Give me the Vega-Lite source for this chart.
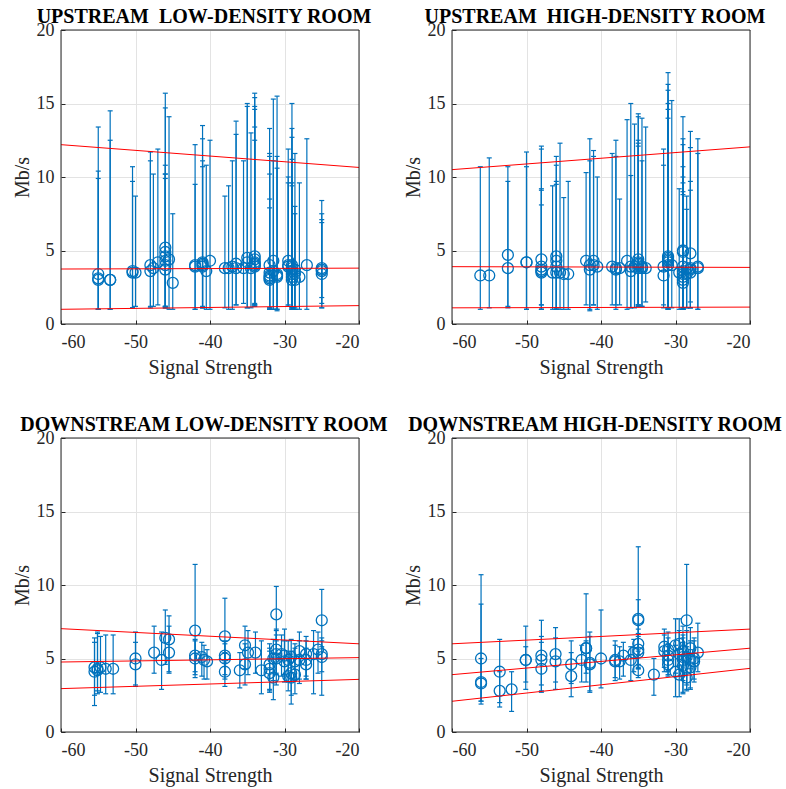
{
"$schema": "https://vega.github.io/schema/vega-lite/v6.json",
"padding": {"left": 11, "top": 6, "right": 5, "bottom": 5},
"columns": 2,
"spacing": {"row": 114, "column": 93},
"bounds": "flush",
"datasets": {
"frame": [{"x0": -60, "x1": -20, "y0": 0, "y1": 20}],
"UL": [
{"x":-55,"y":3.4,"lo":1.0,"hi":13.4},{"x":-55,"y":3.1,"lo":1.0,"hi":10.4},{"x":-55,"y":3.0,"lo":1.0,"hi":9.9},
{"x":-53.4,"y":3.0,"lo":1.0,"hi":14.5},{"x":-53.4,"y":3.0,"lo":1.0,"hi":12.5},
{"x":-50.4,"y":3.6,"lo":1.1,"hi":10.7},{"x":-50.4,"y":3.5,"lo":1.1,"hi":9.7},
{"x":-50.0,"y":3.5,"lo":1.2,"hi":8.7},
{"x":-48.0,"y":4.0,"lo":1.1,"hi":11.7},{"x":-48.0,"y":3.6,"lo":1.2,"hi":11.1},
{"x":-47.6,"y":3.8,"lo":1.2,"hi":10.2},
{"x":-47.0,"y":4.2,"lo":1.3,"hi":11.9},
{"x":-46.0,"y":5.2,"lo":1.1,"hi":15.7},{"x":-46.0,"y":4.9,"lo":1.2,"hi":14.7},{"x":-46.0,"y":4.6,"lo":1.1,"hi":10.8},{"x":-46.0,"y":4.3,"lo":1.2,"hi":10.2},{"x":-46.0,"y":4.0,"lo":1.1,"hi":9.9},{"x":-46.0,"y":3.7,"lo":1.2,"hi":10.2},
{"x":-45.5,"y":4.4,"lo":1.0,"hi":14.1},
{"x":-45.0,"y":2.8,"lo":1.0,"hi":7.5},
{"x":-42.0,"y":4.0,"lo":1.0,"hi":12.2},{"x":-42.0,"y":3.9,"lo":1.0,"hi":9.5},
{"x":-41.0,"y":4.2,"lo":1.1,"hi":13.5},{"x":-41.0,"y":4.0,"lo":1.1,"hi":12.6},{"x":-41.0,"y":3.9,"lo":1.2,"hi":11.1},{"x":-41.0,"y":4.1,"lo":1.1,"hi":10.7},
{"x":-40.5,"y":3.6,"lo":1.0,"hi":10.8},
{"x":-40.0,"y":4.3,"lo":1.0,"hi":12.5},
{"x":-38.0,"y":3.8,"lo":1.1,"hi":8.7},
{"x":-37.5,"y":3.8,"lo":1.0,"hi":9.4},
{"x":-37.0,"y":3.9,"lo":1.0,"hi":11.1},
{"x":-36.5,"y":4.1,"lo":1.3,"hi":13.8},{"x":-36.5,"y":3.8,"lo":1.3,"hi":12.9},
{"x":-35.5,"y":3.8,"lo":1.4,"hi":11.1},
{"x":-35.0,"y":4.5,"lo":1.1,"hi":15.0},{"x":-35.0,"y":4.2,"lo":1.1,"hi":14.8},
{"x":-34.5,"y":3.8,"lo":1.1,"hi":13.0},
{"x":-34.0,"y":4.6,"lo":1.3,"hi":15.7},{"x":-34.0,"y":4.4,"lo":1.3,"hi":15.4},{"x":-34.0,"y":4.2,"lo":1.2,"hi":14.8},{"x":-34.0,"y":4.0,"lo":1.4,"hi":14.6},{"x":-34.0,"y":3.9,"lo":1.3,"hi":13.4},{"x":-34.0,"y":4.1,"lo":1.2,"hi":12.5},
{"x":-32.0,"y":4.0,"lo":1.0,"hi":13.3},{"x":-32.0,"y":3.5,"lo":1.0,"hi":11.6},{"x":-32.0,"y":3.3,"lo":1.1,"hi":11.4},{"x":-32.0,"y":3.2,"lo":1.0,"hi":10.2},{"x":-32.0,"y":3.0,"lo":1.1,"hi":8.5},{"x":-32.0,"y":3.1,"lo":1.0,"hi":7.9},
{"x":-31.5,"y":4.3,"lo":1.0,"hi":15.3},{"x":-31.5,"y":3.6,"lo":1.0,"hi":11.1},
{"x":-31.0,"y":3.2,"lo":0.9,"hi":15.5},{"x":-31.0,"y":3.4,"lo":1.0,"hi":11.4},{"x":-31.0,"y":3.3,"lo":1.0,"hi":10.6},
{"x":-29.5,"y":4.3,"lo":1.2,"hi":11.9},{"x":-29.5,"y":3.9,"lo":1.3,"hi":10.0},{"x":-29.5,"y":4.0,"lo":1.2,"hi":9.6},
{"x":-29.0,"y":4.0,"lo":1.0,"hi":15.0},{"x":-29.0,"y":3.8,"lo":1.1,"hi":13.3},{"x":-29.0,"y":3.6,"lo":1.0,"hi":12.7},{"x":-29.0,"y":3.4,"lo":1.1,"hi":11.2},{"x":-29.0,"y":3.2,"lo":1.0,"hi":9.6},{"x":-29.0,"y":3.0,"lo":1.1,"hi":9.4},
{"x":-28.6,"y":3.7,"lo":1.0,"hi":11.6},{"x":-28.6,"y":3.0,"lo":1.0,"hi":8.0},{"x":-28.6,"y":3.4,"lo":1.1,"hi":7.5},
{"x":-28.0,"y":3.2,"lo":1.0,"hi":9.6},
{"x":-27.0,"y":4.0,"lo":1.0,"hi":12.6},
{"x":-25.0,"y":3.8,"lo":1.1,"hi":8.4},{"x":-25.0,"y":3.6,"lo":1.4,"hi":7.5},{"x":-25.0,"y":3.4,"lo":1.8,"hi":7.1},{"x":-25.0,"y":3.7,"lo":1.1,"hi":6.9}
],
"UH": [
{"x":-56.2,"y":3.3,"lo":1.0,"hi":10.7},
{"x":-55.0,"y":3.3,"lo":1.1,"hi":11.3},
{"x":-52.5,"y":4.7,"lo":1.1,"hi":10.7},{"x":-52.5,"y":3.8,"lo":1.2,"hi":9.7},
{"x":-50.0,"y":4.2,"lo":1.0,"hi":11.7},{"x":-50.0,"y":4.2,"lo":1.0,"hi":10.7},
{"x":-48.0,"y":4.4,"lo":1.0,"hi":12.1},{"x":-48.0,"y":3.9,"lo":1.3,"hi":11.9},{"x":-48.0,"y":3.5,"lo":1.0,"hi":9.2},{"x":-48.0,"y":3.7,"lo":1.0,"hi":9.1},{"x":-48.0,"y":3.6,"lo":1.3,"hi":8.1},
{"x":-46.5,"y":3.5,"lo":1.0,"hi":9.4},
{"x":-46.0,"y":4.6,"lo":1.0,"hi":11.4},{"x":-46.0,"y":4.3,"lo":1.0,"hi":10.8},{"x":-46.0,"y":3.9,"lo":1.1,"hi":9.7},{"x":-46.0,"y":3.5,"lo":1.0,"hi":9.5},
{"x":-45.5,"y":3.5,"lo":1.0,"hi":12.3},
{"x":-45.0,"y":3.4,"lo":1.0,"hi":8.6},
{"x":-44.4,"y":3.4,"lo":1.0,"hi":9.7},
{"x":-42.0,"y":4.3,"lo":1.3,"hi":10.3},
{"x":-41.5,"y":4.0,"lo":0.9,"hi":12.6},{"x":-41.5,"y":3.7,"lo":1.0,"hi":11.1},
{"x":-41.0,"y":4.3,"lo":1.3,"hi":11.8},{"x":-41.0,"y":4.0,"lo":1.3,"hi":11.4},
{"x":-40.5,"y":3.9,"lo":1.0,"hi":10.0},
{"x":-38.5,"y":3.9,"lo":1.3,"hi":11.6},
{"x":-38.0,"y":3.8,"lo":1.0,"hi":12.5},{"x":-38.0,"y":3.7,"lo":1.3,"hi":11.4},
{"x":-37.5,"y":3.8,"lo":1.3,"hi":8.5},
{"x":-36.5,"y":4.3,"lo":1.0,"hi":13.9},
{"x":-36.0,"y":3.9,"lo":1.1,"hi":15.0},{"x":-36.0,"y":3.6,"lo":1.1,"hi":10.1},
{"x":-35.5,"y":3.9,"lo":1.1,"hi":13.6},
{"x":-35.0,"y":4.4,"lo":1.3,"hi":14.3},{"x":-35.0,"y":4.2,"lo":1.3,"hi":14.1},{"x":-35.0,"y":4.0,"lo":1.2,"hi":12.5},{"x":-35.0,"y":3.8,"lo":1.3,"hi":12.3},{"x":-35.0,"y":4.1,"lo":1.2,"hi":12.1},
{"x":-34.5,"y":3.9,"lo":1.2,"hi":14.0},{"x":-34.5,"y":3.8,"lo":1.2,"hi":11.1},
{"x":-34.0,"y":3.8,"lo":1.5,"hi":13.4},
{"x":-31.6,"y":3.9,"lo":1.3,"hi":11.9},{"x":-31.6,"y":3.3,"lo":1.1,"hi":10.8},
{"x":-31.0,"y":4.6,"lo":1.0,"hi":17.1},{"x":-31.0,"y":4.4,"lo":1.1,"hi":16.3},{"x":-31.0,"y":4.2,"lo":1.0,"hi":15.9},{"x":-31.0,"y":4.3,"lo":1.1,"hi":15.0},{"x":-31.0,"y":4.5,"lo":1.0,"hi":14.6},{"x":-31.0,"y":4.0,"lo":1.1,"hi":14.0},
{"x":-30.5,"y":4.0,"lo":1.1,"hi":15.2},
{"x":-29.5,"y":3.5,"lo":1.0,"hi":9.2},
{"x":-29.0,"y":5.0,"lo":1.0,"hi":14.1},{"x":-29.0,"y":4.9,"lo":1.1,"hi":12.6},{"x":-29.0,"y":3.9,"lo":1.0,"hi":12.2},{"x":-29.0,"y":3.6,"lo":1.0,"hi":10.7},{"x":-29.0,"y":3.2,"lo":1.1,"hi":10.0},{"x":-29.0,"y":3.0,"lo":1.0,"hi":9.6},{"x":-29.0,"y":2.8,"lo":1.0,"hi":9.0},{"x":-29.0,"y":3.4,"lo":1.0,"hi":8.8},
{"x":-28.5,"y":3.8,"lo":1.1,"hi":8.7},{"x":-28.5,"y":3.4,"lo":1.1,"hi":7.8},
{"x":-28.0,"y":4.8,"lo":1.1,"hi":13.1},{"x":-28.0,"y":3.8,"lo":1.1,"hi":12.0},{"x":-28.0,"y":3.5,"lo":1.5,"hi":9.7},{"x":-28.0,"y":3.7,"lo":1.1,"hi":9.1},
{"x":-27.0,"y":3.9,"lo":1.0,"hi":12.6},{"x":-27.0,"y":3.8,"lo":1.0,"hi":11.6}
],
"DL": [
{"x":-55.5,"y":4.4,"lo":1.8,"hi":6.4},{"x":-55.5,"y":4.1,"lo":2.5,"hi":6.1},
{"x":-55.1,"y":4.3,"lo":2.6,"hi":6.8},{"x":-55.1,"y":4.2,"lo":2.8,"hi":6.7},
{"x":-54.7,"y":4.4,"lo":2.7,"hi":6.5},
{"x":-54.0,"y":4.3,"lo":2.6,"hi":6.6},
{"x":-53.0,"y":4.3,"lo":2.6,"hi":6.6},
{"x":-50.0,"y":5.0,"lo":3.2,"hi":6.8},{"x":-50.0,"y":4.6,"lo":3.1,"hi":6.1},
{"x":-47.5,"y":5.4,"lo":4.0,"hi":7.2},
{"x":-46.5,"y":4.9,"lo":2.9,"hi":6.8},
{"x":-46.0,"y":6.4,"lo":4.6,"hi":8.3},
{"x":-45.5,"y":6.3,"lo":4.0,"hi":7.9},{"x":-45.5,"y":5.4,"lo":4.1,"hi":7.2},
{"x":-42.0,"y":6.9,"lo":4.1,"hi":11.4},{"x":-42.0,"y":5.2,"lo":3.7,"hi":6.2},{"x":-42.0,"y":5.0,"lo":3.9,"hi":6.3},
{"x":-41.1,"y":5.1,"lo":3.8,"hi":6.1},
{"x":-40.8,"y":4.9,"lo":3.6,"hi":5.9},
{"x":-40.4,"y":4.8,"lo":3.6,"hi":5.6},
{"x":-38.0,"y":6.5,"lo":4.7,"hi":9.1},{"x":-38.0,"y":5.2,"lo":3.9,"hi":6.2},{"x":-38.0,"y":5.0,"lo":3.6,"hi":6.0},{"x":-38.0,"y":4.1,"lo":3.1,"hi":5.4},
{"x":-36.0,"y":4.2,"lo":3.0,"hi":5.4},
{"x":-35.3,"y":5.9,"lo":4.3,"hi":7.2},{"x":-35.3,"y":4.6,"lo":3.2,"hi":6.0},
{"x":-34.9,"y":5.4,"lo":3.9,"hi":6.9},
{"x":-33.9,"y":5.4,"lo":4.0,"hi":6.8},
{"x":-33.1,"y":4.2,"lo":2.6,"hi":6.2},
{"x":-32.0,"y":4.6,"lo":2.8,"hi":6.0},{"x":-32.0,"y":4.3,"lo":2.7,"hi":5.7},{"x":-32.0,"y":4.0,"lo":2.9,"hi":5.5},
{"x":-31.5,"y":5.0,"lo":3.5,"hi":6.3},{"x":-31.5,"y":3.7,"lo":2.2,"hi":5.1},
{"x":-31.1,"y":8.0,"lo":6.2,"hi":9.9},{"x":-31.1,"y":5.6,"lo":4.0,"hi":7.0},{"x":-31.1,"y":5.3,"lo":3.9,"hi":6.9},{"x":-31.1,"y":5.0,"lo":3.2,"hi":6.6},
{"x":-30.4,"y":5.3,"lo":3.8,"hi":6.6},
{"x":-30.0,"y":5.2,"lo":3.9,"hi":7.0},{"x":-30.0,"y":4.8,"lo":3.4,"hi":6.2},
{"x":-29.5,"y":4.9,"lo":3.4,"hi":6.2},{"x":-29.5,"y":3.8,"lo":2.8,"hi":5.0},
{"x":-29.1,"y":5.1,"lo":3.6,"hi":6.3},{"x":-29.1,"y":4.0,"lo":2.5,"hi":5.5},{"x":-29.1,"y":3.7,"lo":1.9,"hi":5.3},
{"x":-28.6,"y":3.9,"lo":2.6,"hi":5.7},{"x":-28.6,"y":4.8,"lo":3.5,"hi":6.0},
{"x":-28.0,"y":5.5,"lo":3.3,"hi":6.8},{"x":-28.0,"y":4.9,"lo":3.6,"hi":6.2},
{"x":-27.1,"y":5.3,"lo":3.8,"hi":6.5},{"x":-27.1,"y":4.9,"lo":3.6,"hi":6.2},{"x":-27.1,"y":4.6,"lo":3.6,"hi":5.7},
{"x":-26.1,"y":5.3,"lo":2.6,"hi":6.9},
{"x":-25.5,"y":5.6,"lo":4.0,"hi":6.8},
{"x":-25.0,"y":7.6,"lo":5.8,"hi":9.7},{"x":-25.0,"y":5.3,"lo":2.5,"hi":6.4},{"x":-25.0,"y":5.1,"lo":4.1,"hi":6.2}
],
"DH": [
{"x":-56.1,"y":5.0,"lo":2.1,"hi":10.7},{"x":-56.1,"y":3.4,"lo":1.9,"hi":8.7},{"x":-56.1,"y":3.3,"lo":2.1,"hi":5.0},
{"x":-53.6,"y":4.1,"lo":2.0,"hi":6.3},{"x":-53.6,"y":2.8,"lo":1.7,"hi":4.1},
{"x":-52.0,"y":2.9,"lo":1.4,"hi":4.1},
{"x":-50.1,"y":4.9,"lo":2.9,"hi":7.2},{"x":-50.1,"y":4.9,"lo":3.4,"hi":5.8},
{"x":-48.0,"y":5.2,"lo":2.7,"hi":7.6},{"x":-48.0,"y":4.9,"lo":3.2,"hi":6.5},{"x":-48.0,"y":4.3,"lo":2.8,"hi":6.1},
{"x":-46.1,"y":5.3,"lo":2.9,"hi":7.1},{"x":-46.1,"y":4.8,"lo":3.4,"hi":6.4},
{"x":-44.0,"y":4.6,"lo":3.3,"hi":6.2},{"x":-44.0,"y":3.8,"lo":2.4,"hi":5.4},
{"x":-42.6,"y":4.9,"lo":3.4,"hi":5.9},
{"x":-42.0,"y":5.7,"lo":3.4,"hi":9.4},{"x":-42.0,"y":5.7,"lo":4.0,"hi":6.2},
{"x":-41.5,"y":4.7,"lo":2.7,"hi":6.8},{"x":-41.5,"y":4.6,"lo":2.8,"hi":6.5},
{"x":-40.0,"y":5.0,"lo":3.0,"hi":8.3},
{"x":-38.1,"y":4.9,"lo":3.5,"hi":6.2},{"x":-38.1,"y":4.8,"lo":3.7,"hi":5.9},
{"x":-37.5,"y":4.8,"lo":3.6,"hi":5.8},
{"x":-37.0,"y":5.2,"lo":3.8,"hi":6.1},
{"x":-36.0,"y":4.9,"lo":3.5,"hi":5.8},
{"x":-35.6,"y":5.4,"lo":4.1,"hi":6.3},
{"x":-35.0,"y":7.7,"lo":4.6,"hi":12.6},{"x":-35.0,"y":7.6,"lo":5.5,"hi":9.0},{"x":-35.0,"y":6.0,"lo":4.3,"hi":7.0},{"x":-35.0,"y":5.6,"lo":4.4,"hi":6.7},{"x":-35.0,"y":5.4,"lo":4.3,"hi":6.5},{"x":-35.0,"y":4.2,"lo":3.7,"hi":5.2},
{"x":-32.9,"y":3.9,"lo":2.5,"hi":5.0},
{"x":-31.5,"y":5.8,"lo":4.1,"hi":7.0},{"x":-31.5,"y":5.5,"lo":4.4,"hi":6.6},
{"x":-31.0,"y":5.6,"lo":4.2,"hi":6.8},{"x":-31.0,"y":5.2,"lo":4.1,"hi":6.4},{"x":-31.0,"y":4.9,"lo":3.8,"hi":6.0},{"x":-31.0,"y":4.6,"lo":3.9,"hi":5.8},
{"x":-30.0,"y":5.9,"lo":4.0,"hi":7.7},{"x":-30.0,"y":4.1,"lo":2.4,"hi":5.9},
{"x":-29.5,"y":6.0,"lo":4.5,"hi":7.7},{"x":-29.5,"y":5.3,"lo":3.8,"hi":6.9},{"x":-29.5,"y":3.9,"lo":2.4,"hi":5.6},
{"x":-29.0,"y":5.5,"lo":3.8,"hi":7.2},{"x":-29.0,"y":5.1,"lo":3.5,"hi":6.6},{"x":-29.0,"y":4.9,"lo":2.6,"hi":6.4},{"x":-29.0,"y":4.5,"lo":2.7,"hi":6.1},
{"x":-28.5,"y":7.6,"lo":5.3,"hi":11.4},{"x":-28.5,"y":5.1,"lo":3.2,"hi":6.9},{"x":-28.5,"y":4.3,"lo":2.9,"hi":5.8},{"x":-28.5,"y":3.7,"lo":2.8,"hi":5.2},
{"x":-28.0,"y":5.7,"lo":4.3,"hi":7.1},{"x":-28.0,"y":4.9,"lo":2.9,"hi":6.2},{"x":-28.0,"y":4.4,"lo":3.0,"hi":5.6},
{"x":-27.5,"y":4.8,"lo":3.4,"hi":6.4},{"x":-27.5,"y":5.0,"lo":3.6,"hi":6.2},
{"x":-27.0,"y":5.4,"lo":4.1,"hi":7.4}
],
"ULfit": [{"x":-60,"y":12.2,"x2":-20,"y2":10.65},{"x":-60,"y":3.74,"x2":-20,"y2":3.8},{"x":-60,"y":1.0,"x2":-20,"y2":1.25}],
"UHfit": [{"x":-60,"y":10.5,"x2":-20,"y2":12.05},{"x":-60,"y":3.9,"x2":-20,"y2":3.85},{"x":-60,"y":1.1,"x2":-20,"y2":1.15}],
"DLfit": [{"x":-60,"y":7.03,"x2":-20,"y2":6.0},{"x":-60,"y":4.76,"x2":-20,"y2":5.06},{"x":-60,"y":2.95,"x2":-20,"y2":3.58}],
"DHfit": [{"x":-60,"y":6.0,"x2":-20,"y2":7.0},{"x":-60,"y":3.9,"x2":-20,"y2":5.7},{"x":-60,"y":2.09,"x2":-20,"y2":4.33}]
},
"concat": [
{"title": "UPSTREAM\u00a0 LOW-DENSITY ROOM", "width": 298, "height": 294,
 "layer": [
  {"data": {"name": "UL"}, "mark": {"type": "rule", "color": "#0072BD", "strokeWidth": 1.2},
   "encoding": {"x": {"field": "x", "type": "quantitative", "scale": {"domain": [-60, -20], "nice": false, "zero": false}, "axis": {"values": [-60, -50, -40, -30, -20]}, "title": "Signal Strength"},
    "y": {"field": "lo", "type": "quantitative", "scale": {"domain": [0, 20], "nice": false, "zero": false}, "axis": {"values": [0, 5, 10, 15, 20]}, "title": "Mb/s"}, "y2": {"field": "hi"}}},
  {"data": {"name": "UL"}, "mark": {"type": "tick", "orient": "horizontal", "size": 5, "thickness": 1.2, "color": "#0072BD", "opacity": 1},
   "encoding": {"x": {"field": "x", "type": "quantitative", "scale": {"domain": [-60, -20], "nice": false, "zero": false}, "title": "Signal Strength"},
    "y": {"field": "lo", "type": "quantitative", "scale": {"domain": [0, 20], "nice": false, "zero": false}, "title": "Mb/s"}}},
  {"data": {"name": "UL"}, "mark": {"type": "tick", "orient": "horizontal", "size": 5, "thickness": 1.2, "color": "#0072BD", "opacity": 1},
   "encoding": {"x": {"field": "x", "type": "quantitative", "scale": {"domain": [-60, -20], "nice": false, "zero": false}, "title": "Signal Strength"},
    "y": {"field": "hi", "type": "quantitative", "scale": {"domain": [0, 20], "nice": false, "zero": false}, "title": "Mb/s"}}},
  {"data": {"name": "UL"}, "mark": {"type": "point", "shape": "circle", "filled": false, "size": 120, "strokeWidth": 1.3, "color": "#0072BD", "opacity": 1},
   "encoding": {"x": {"field": "x", "type": "quantitative", "scale": {"domain": [-60, -20], "nice": false, "zero": false}, "title": "Signal Strength"},
    "y": {"field": "y", "type": "quantitative", "scale": {"domain": [0, 20], "nice": false, "zero": false}, "title": "Mb/s"}}},
  {"data": {"name": "ULfit"}, "mark": {"type": "rule", "color": "#FF0000", "strokeWidth": 1},
   "encoding": {"x": {"field": "x", "type": "quantitative", "scale": {"domain": [-60, -20], "nice": false, "zero": false}, "title": "Signal Strength"},
    "y": {"field": "y", "type": "quantitative", "scale": {"domain": [0, 20], "nice": false, "zero": false}, "title": "Mb/s"}, "x2": {"field": "x2"}, "y2": {"field": "y2"}}},
  {"data": {"name": "frame"}, "mark": {"type": "rect", "fill": null, "fillOpacity": 0, "stroke": "#262626", "strokeWidth": 1},
   "encoding": {"x": {"field": "x0", "type": "quantitative", "scale": {"domain": [-60, -20], "nice": false, "zero": false}, "title": "Signal Strength"}, "x2": {"field": "x1"},
    "y": {"field": "y0", "type": "quantitative", "scale": {"domain": [0, 20], "nice": false, "zero": false}, "title": "Mb/s"}, "y2": {"field": "y1"}}}
 ]},
{"title": "UPSTREAM\u00a0 HIGH-DENSITY ROOM", "width": 298, "height": 294,
 "layer": [
  {"data": {"name": "UH"}, "mark": {"type": "rule", "color": "#0072BD", "strokeWidth": 1.2},
   "encoding": {"x": {"field": "x", "type": "quantitative", "scale": {"domain": [-60, -20], "nice": false, "zero": false}, "axis": {"values": [-60, -50, -40, -30, -20]}, "title": "Signal Strength"},
    "y": {"field": "lo", "type": "quantitative", "scale": {"domain": [0, 20], "nice": false, "zero": false}, "axis": {"values": [0, 5, 10, 15, 20]}, "title": "Mb/s"}, "y2": {"field": "hi"}}},
  {"data": {"name": "UH"}, "mark": {"type": "tick", "orient": "horizontal", "size": 5, "thickness": 1.2, "color": "#0072BD", "opacity": 1},
   "encoding": {"x": {"field": "x", "type": "quantitative", "scale": {"domain": [-60, -20], "nice": false, "zero": false}, "title": "Signal Strength"},
    "y": {"field": "lo", "type": "quantitative", "scale": {"domain": [0, 20], "nice": false, "zero": false}, "title": "Mb/s"}}},
  {"data": {"name": "UH"}, "mark": {"type": "tick", "orient": "horizontal", "size": 5, "thickness": 1.2, "color": "#0072BD", "opacity": 1},
   "encoding": {"x": {"field": "x", "type": "quantitative", "scale": {"domain": [-60, -20], "nice": false, "zero": false}, "title": "Signal Strength"},
    "y": {"field": "hi", "type": "quantitative", "scale": {"domain": [0, 20], "nice": false, "zero": false}, "title": "Mb/s"}}},
  {"data": {"name": "UH"}, "mark": {"type": "point", "shape": "circle", "filled": false, "size": 120, "strokeWidth": 1.3, "color": "#0072BD", "opacity": 1},
   "encoding": {"x": {"field": "x", "type": "quantitative", "scale": {"domain": [-60, -20], "nice": false, "zero": false}, "title": "Signal Strength"},
    "y": {"field": "y", "type": "quantitative", "scale": {"domain": [0, 20], "nice": false, "zero": false}, "title": "Mb/s"}}},
  {"data": {"name": "UHfit"}, "mark": {"type": "rule", "color": "#FF0000", "strokeWidth": 1},
   "encoding": {"x": {"field": "x", "type": "quantitative", "scale": {"domain": [-60, -20], "nice": false, "zero": false}, "title": "Signal Strength"},
    "y": {"field": "y", "type": "quantitative", "scale": {"domain": [0, 20], "nice": false, "zero": false}, "title": "Mb/s"}, "x2": {"field": "x2"}, "y2": {"field": "y2"}}},
  {"data": {"name": "frame"}, "mark": {"type": "rect", "fill": null, "fillOpacity": 0, "stroke": "#262626", "strokeWidth": 1},
   "encoding": {"x": {"field": "x0", "type": "quantitative", "scale": {"domain": [-60, -20], "nice": false, "zero": false}, "title": "Signal Strength"}, "x2": {"field": "x1"},
    "y": {"field": "y0", "type": "quantitative", "scale": {"domain": [0, 20], "nice": false, "zero": false}, "title": "Mb/s"}, "y2": {"field": "y1"}}}
 ]},
{"title": "DOWNSTREAM LOW-DENSITY ROOM", "width": 298, "height": 294,
 "layer": [
  {"data": {"name": "DL"}, "mark": {"type": "rule", "color": "#0072BD", "strokeWidth": 1.2},
   "encoding": {"x": {"field": "x", "type": "quantitative", "scale": {"domain": [-60, -20], "nice": false, "zero": false}, "axis": {"values": [-60, -50, -40, -30, -20]}, "title": "Signal Strength"},
    "y": {"field": "lo", "type": "quantitative", "scale": {"domain": [0, 20], "nice": false, "zero": false}, "axis": {"values": [0, 5, 10, 15, 20]}, "title": "Mb/s"}, "y2": {"field": "hi"}}},
  {"data": {"name": "DL"}, "mark": {"type": "tick", "orient": "horizontal", "size": 5, "thickness": 1.2, "color": "#0072BD", "opacity": 1},
   "encoding": {"x": {"field": "x", "type": "quantitative", "scale": {"domain": [-60, -20], "nice": false, "zero": false}, "title": "Signal Strength"},
    "y": {"field": "lo", "type": "quantitative", "scale": {"domain": [0, 20], "nice": false, "zero": false}, "title": "Mb/s"}}},
  {"data": {"name": "DL"}, "mark": {"type": "tick", "orient": "horizontal", "size": 5, "thickness": 1.2, "color": "#0072BD", "opacity": 1},
   "encoding": {"x": {"field": "x", "type": "quantitative", "scale": {"domain": [-60, -20], "nice": false, "zero": false}, "title": "Signal Strength"},
    "y": {"field": "hi", "type": "quantitative", "scale": {"domain": [0, 20], "nice": false, "zero": false}, "title": "Mb/s"}}},
  {"data": {"name": "DL"}, "mark": {"type": "point", "shape": "circle", "filled": false, "size": 120, "strokeWidth": 1.3, "color": "#0072BD", "opacity": 1},
   "encoding": {"x": {"field": "x", "type": "quantitative", "scale": {"domain": [-60, -20], "nice": false, "zero": false}, "title": "Signal Strength"},
    "y": {"field": "y", "type": "quantitative", "scale": {"domain": [0, 20], "nice": false, "zero": false}, "title": "Mb/s"}}},
  {"data": {"name": "DLfit"}, "mark": {"type": "rule", "color": "#FF0000", "strokeWidth": 1},
   "encoding": {"x": {"field": "x", "type": "quantitative", "scale": {"domain": [-60, -20], "nice": false, "zero": false}, "title": "Signal Strength"},
    "y": {"field": "y", "type": "quantitative", "scale": {"domain": [0, 20], "nice": false, "zero": false}, "title": "Mb/s"}, "x2": {"field": "x2"}, "y2": {"field": "y2"}}},
  {"data": {"name": "frame"}, "mark": {"type": "rect", "fill": null, "fillOpacity": 0, "stroke": "#262626", "strokeWidth": 1},
   "encoding": {"x": {"field": "x0", "type": "quantitative", "scale": {"domain": [-60, -20], "nice": false, "zero": false}, "title": "Signal Strength"}, "x2": {"field": "x1"},
    "y": {"field": "y0", "type": "quantitative", "scale": {"domain": [0, 20], "nice": false, "zero": false}, "title": "Mb/s"}, "y2": {"field": "y1"}}}
 ]},
{"title": "DOWNSTREAM HIGH-DENSITY ROOM", "width": 298, "height": 294,
 "layer": [
  {"data": {"name": "DH"}, "mark": {"type": "rule", "color": "#0072BD", "strokeWidth": 1.2},
   "encoding": {"x": {"field": "x", "type": "quantitative", "scale": {"domain": [-60, -20], "nice": false, "zero": false}, "axis": {"values": [-60, -50, -40, -30, -20]}, "title": "Signal Strength"},
    "y": {"field": "lo", "type": "quantitative", "scale": {"domain": [0, 20], "nice": false, "zero": false}, "axis": {"values": [0, 5, 10, 15, 20]}, "title": "Mb/s"}, "y2": {"field": "hi"}}},
  {"data": {"name": "DH"}, "mark": {"type": "tick", "orient": "horizontal", "size": 5, "thickness": 1.2, "color": "#0072BD", "opacity": 1},
   "encoding": {"x": {"field": "x", "type": "quantitative", "scale": {"domain": [-60, -20], "nice": false, "zero": false}, "title": "Signal Strength"},
    "y": {"field": "lo", "type": "quantitative", "scale": {"domain": [0, 20], "nice": false, "zero": false}, "title": "Mb/s"}}},
  {"data": {"name": "DH"}, "mark": {"type": "tick", "orient": "horizontal", "size": 5, "thickness": 1.2, "color": "#0072BD", "opacity": 1},
   "encoding": {"x": {"field": "x", "type": "quantitative", "scale": {"domain": [-60, -20], "nice": false, "zero": false}, "title": "Signal Strength"},
    "y": {"field": "hi", "type": "quantitative", "scale": {"domain": [0, 20], "nice": false, "zero": false}, "title": "Mb/s"}}},
  {"data": {"name": "DH"}, "mark": {"type": "point", "shape": "circle", "filled": false, "size": 120, "strokeWidth": 1.3, "color": "#0072BD", "opacity": 1},
   "encoding": {"x": {"field": "x", "type": "quantitative", "scale": {"domain": [-60, -20], "nice": false, "zero": false}, "title": "Signal Strength"},
    "y": {"field": "y", "type": "quantitative", "scale": {"domain": [0, 20], "nice": false, "zero": false}, "title": "Mb/s"}}},
  {"data": {"name": "DHfit"}, "mark": {"type": "rule", "color": "#FF0000", "strokeWidth": 1},
   "encoding": {"x": {"field": "x", "type": "quantitative", "scale": {"domain": [-60, -20], "nice": false, "zero": false}, "title": "Signal Strength"},
    "y": {"field": "y", "type": "quantitative", "scale": {"domain": [0, 20], "nice": false, "zero": false}, "title": "Mb/s"}, "x2": {"field": "x2"}, "y2": {"field": "y2"}}},
  {"data": {"name": "frame"}, "mark": {"type": "rect", "fill": null, "fillOpacity": 0, "stroke": "#262626", "strokeWidth": 1},
   "encoding": {"x": {"field": "x0", "type": "quantitative", "scale": {"domain": [-60, -20], "nice": false, "zero": false}, "title": "Signal Strength"}, "x2": {"field": "x1"},
    "y": {"field": "y0", "type": "quantitative", "scale": {"domain": [0, 20], "nice": false, "zero": false}, "title": "Mb/s"}, "y2": {"field": "y1"}}}
 ]}
],
"config": {
 "font": "Liberation Serif",
 "background": "white",
 "view": {"stroke": "#262626", "strokeWidth": 1},
 "axis": {"domain": false, "grid": true, "gridColor": "#e3e3e3", "gridWidth": 1, "tickColor": "#262626", "tickSize": -4, "tickWidth": 1,
  "labelFont": "Liberation Serif", "labelFontSize": 18, "labelColor": "#262626", "labelExpr": "'' + datum.value",
  "titleFont": "Liberation Serif", "titleFontSize": 20, "titleFontWeight": "normal", "titleColor": "#262626"},
 "axisX": {"labelPadding": 13, "titlePadding": 6},
 "axisY": {"labelPadding": 11, "titlePadding": 4},
 "title": {"font": "Liberation Serif", "fontSize": 20, "fontWeight": "bold", "color": "#000000", "frame": "group", "anchor": "middle", "baseline": "alphabetic", "offset": -6, "dx": -6}
}
}
